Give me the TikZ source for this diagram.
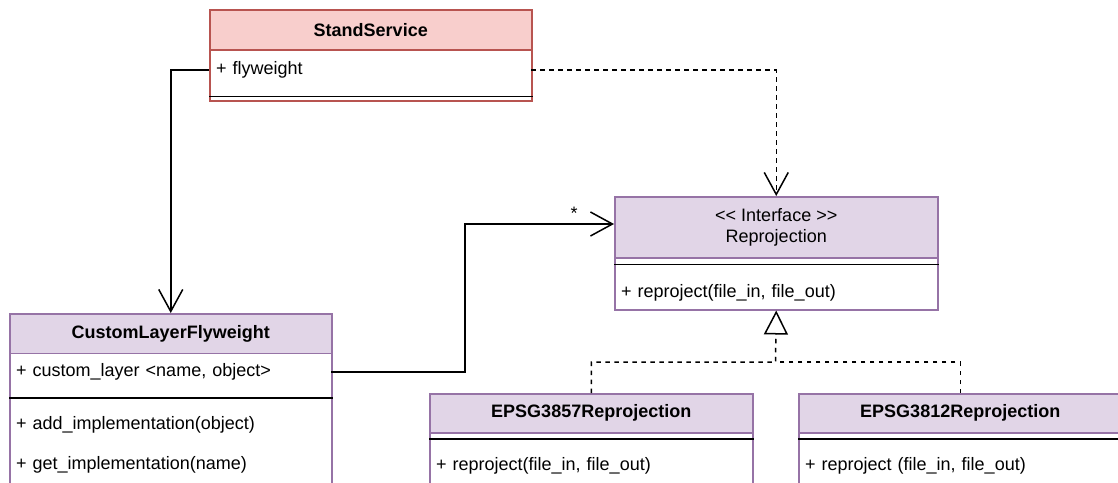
\documentclass[tikz,border=0pt]{standalone}
\usepackage{fontspec}
\setmainfont{Liberation Sans}
\usetikzlibrary{arrows.meta}
\definecolor{redfill}{HTML}{F8CECC}
\definecolor{redline}{HTML}{B85450}
\definecolor{lilacfill}{HTML}{E1D5E7}
\definecolor{lilacline}{HTML}{9673A6}
\begin{document}
\begin{tikzpicture}[x=1pt,y=-1pt,
  every node/.style={font=\fontsize{18pt}{21pt}\selectfont},
  frame/.style={draw, line width=1.5pt, rectangle, inner sep=0pt,
    anchor=north west, fill=white},
  head/.style={frame, align=center,
    font=\fontsize{18pt}{21pt}\selectfont\bfseries},
  row/.style={inner xsep=7pt, inner ysep=0pt, text width=#1, align=left,
    anchor=west},
  sepline/.style={line width=1.5pt, black},
  assoc/.style={line width=1.5pt, -{Straight Barb[length=22pt,width=24pt]}},
  dep/.style={assoc, dash pattern=on 4.5pt off 4.5pt},
  real/.style={line width=1.5pt, dash pattern=on 4.5pt off 4.5pt,
    -{Triangle[open,length=24pt,width=24pt]}}]
\clip (0,0) rectangle (1118,482);

% StandService
\node[frame, draw=redline, minimum width=322pt, minimum height=91pt] (stand) at (209,9) {};
\node[head, fill=redfill, draw=redline, minimum width=322pt, minimum height=40pt] (stand-head) at (209,9) {StandService};
\node[row=308pt] (stand-attr) at (209,70) {+ flyweight};
\draw[sepline] ([yshift=5pt]stand.south west) -- ([yshift=5pt]stand.south east);

% CustomLayerFlyweight
\node[frame, draw=lilacline, minimum width=322pt, minimum height=190pt] (clf) at (9,313) {};
\node[head, fill=lilacfill, draw=lilacline, minimum width=322pt, minimum height=39.5pt] (clf-head) at (9,313) {CustomLayerFlyweight};
\node[row=308pt] (clf-attr) at (9,372) {+ custom\_layer <name, object>};
\draw[sepline] ([yshift=-85pt]clf.north west) -- ([yshift=-85pt]clf.north east);
\node[row=308pt] (clf-add) at (9,425) {+ add\_implementation(object)};
\node[row=308pt] (clf-get) at (9,465) {+ get\_implementation(name)};

% Reprojection interface
\node[frame, draw=lilacline, minimum width=323pt, minimum height=113pt] (iface) at (614,196) {};
\node[head, fill=lilacfill, draw=lilacline, minimum width=323pt, minimum height=61pt,
  font=\fontsize{18pt}{21pt}\selectfont] (iface-head) at (614,196)
  {\textless\kern0pt\textless{} Interface \textgreater\kern0pt\textgreater\\Reprojection};
\draw[sepline] ([yshift=46pt]iface.south west) -- ([yshift=46pt]iface.south east);
\node[row=309pt] (iface-op) at (614,293) {+ reproject(file\_in, file\_out)};

% EPSG3857Reprojection
\node[frame, draw=lilacline, minimum width=323pt, minimum height=110pt] (epsg57) at (429,393) {};
\node[head, fill=lilacfill, draw=lilacline, minimum width=323pt, minimum height=39pt] (epsg57-head) at (429,393) {EPSG3857Reprojection};
\draw[sepline] ([yshift=-46pt]epsg57.north west) -- ([yshift=-46pt]epsg57.north east);
\node[row=309pt] (epsg57-op) at (429,466) {+ reproject(file\_in, file\_out)};

% EPSG3812Reprojection
\node[frame, draw=lilacline, minimum width=323pt, minimum height=110pt] (epsg12) at (798,393) {};
\node[head, fill=lilacfill, draw=lilacline, minimum width=323pt, minimum height=39pt] (epsg12-head) at (798,393) {EPSG3812Reprojection};
\draw[sepline] ([yshift=-46pt]epsg12.north west) -- ([yshift=-46pt]epsg12.north east);
\node[row=309pt] (epsg12-op) at (798,466) {+ reproject (file\_in, file\_out)};

% connectors
\draw[assoc] (stand-attr.west) -| (clf-head.north);
\draw[dep] (stand-attr.east) -| (iface.north);

\coordinate (jog) at (465,224);
\draw[assoc] (clf-attr.east) -- (clf-attr.east -| jog) -- (jog) -- (jog -| iface.west);
\node (mult) at (574,213) {*};

\coordinate (fork) at (775.5,362);
\draw[real] (epsg57.north) -- (epsg57.north |- fork) -- (fork) -- (iface.south);
\draw[real, -] (epsg12.north) -- (epsg12.north |- fork) -- (fork);
\end{tikzpicture}
\end{document}
